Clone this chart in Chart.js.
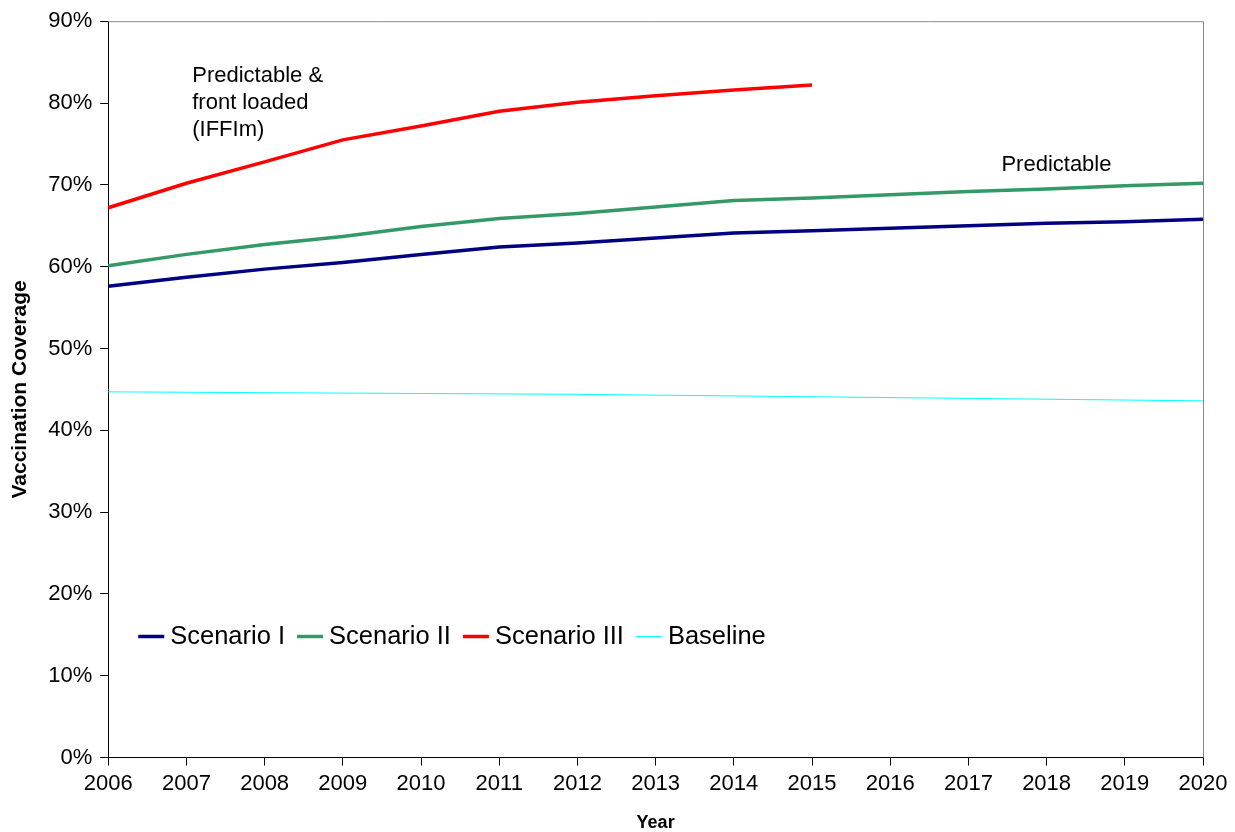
<!DOCTYPE html>
<html>
<head>
<meta charset="utf-8">
<script src="https://cdn.jsdelivr.net/npm/chart.js@4"></script>
<style>
  html, body { margin: 0; padding: 0; background: #fff; }
  #wrap { width: 1235px; height: 832px; }
</style>
</head>
<body>
<div id="wrap"><canvas id="c" width="1235" height="832"></canvas></div>
<script>
const years = ['2006','2007','2008','2009','2010','2011','2012','2013','2014','2015','2016','2017','2018','2019','2020'];
const scenarioI   = [57.6, 58.7, 59.7, 60.5, 61.5, 62.4, 62.9, 63.5, 64.1, 64.4, 64.7, 65.0, 65.3, 65.5, 65.8];
const scenarioII  = [60.1, 61.5, 62.7, 63.7, 64.9, 65.9, 66.5, 67.3, 68.1, 68.4, 68.8, 69.2, 69.5, 69.9, 70.2];
const scenarioIII = [67.2, 70.2, 72.8, 75.5, 77.2, 79.0, 80.1, 80.9, 81.6, 82.2];
const baseline    = [44.7, 44.65, 44.6, 44.55, 44.5, 44.45, 44.4, 44.3, 44.2, 44.1, 44.0, 43.9, 43.8, 43.7, 43.6];
const yTicks = [0, 10, 20, 30, 40, 50, 60, 70, 80, 90];

const FONT = 'Liberation Sans, Arial, sans-serif';

// plot border (top/right), x title, annotations and the legend inside the plot
const extras = {
  id: 'extras',
  afterDraw(chart) {
    const { ctx, chartArea: a, scales: { x, y } } = chart;
    ctx.save();
    ctx.strokeStyle = '#888';
    ctx.lineWidth = 1;
    ctx.beginPath();
    ctx.moveTo(a.left, a.top + 0.5); ctx.lineTo(a.right + 0.5, a.top + 0.5);
    ctx.lineTo(a.right + 0.5, a.bottom);
    ctx.stroke();

    ctx.fillStyle = '#000';
    ctx.textBaseline = 'middle';
    ctx.textAlign = 'center';
    ctx.font = 'bold 18px ' + FONT;
    ctx.fillText('Year', (a.left + a.right) / 2, a.bottom + 65);

    ctx.textAlign = 'left';
    ctx.font = '22px ' + FONT;
    const lx = x.getPixelForValue(0) + 84;
    ['Predictable &', 'front loaded', '(IFFIm)'].forEach((t, i) => {
      ctx.fillText(t, lx, y.getPixelForValue(83.3) + i * 27);
    });
    ctx.fillText('Predictable', x.getPixelForValue(11) + 33, y.getPixelForValue(72.4));

    // legend
    ctx.font = '25.5px ' + FONT;
    let px = a.left + 30;
    const py = y.getPixelForValue(14.8);
    chart.data.datasets.forEach(ds => {
      ctx.strokeStyle = ds.borderColor;
      ctx.lineWidth = ds.borderWidth > 2 ? 3.5 : 1;
      ctx.beginPath();
      ctx.moveTo(px, py); ctx.lineTo(px + 26, py);
      ctx.stroke();
      px += 32;
      ctx.fillText(ds.label, px, py);
      px += ctx.measureText(ds.label).width + 12;
    });
    ctx.restore();
  }
};

new Chart(document.getElementById('c'), {
  type: 'line',
  data: {
    labels: years,
    datasets: [
      { label: 'Scenario I',   data: scenarioI,   borderColor: '#000080', borderWidth: 3.5 },
      { label: 'Scenario II',  data: scenarioII,  borderColor: '#339966', borderWidth: 3.5 },
      { label: 'Scenario III', data: scenarioIII, borderColor: '#ff0000', borderWidth: 3.5 },
      { label: 'Baseline',     data: baseline,    borderColor: '#00ffff', borderWidth: 1 }
    ]
  },
  options: {
    responsive: false,
    animation: false,
    devicePixelRatio: 1,
    elements: { point: { radius: 0 }, line: { tension: 0 } },
    layout: { padding: { top: 15, right: 32, left: 4, bottom: 30 } },
    plugins: { legend: { display: false }, tooltip: { enabled: false } },
    scales: {
      x: {
        offset: false,
        grid: { display: true, drawOnChartArea: false, drawTicks: true, tickLength: 8, color: '#000' },
        border: { color: '#000', width: 1 },
        ticks: { color: '#000', font: { family: FONT, size: 22 }, maxRotation: 0, autoSkip: false, padding: 5 }
      },
      y: {
        min: 0, max: 90,
        afterBuildTicks: s => { s.ticks = yTicks.map(v => ({ value: v })); },
        grid: { display: true, drawOnChartArea: false, drawTicks: true, tickLength: 8, color: '#000' },
        border: { color: '#000', width: 1 },
        ticks: { color: '#000', font: { family: FONT, size: 22 }, padding: 8, callback: v => v + '%' },
        title: { display: true, text: 'Vaccination Coverage', color: '#000', font: { family: FONT, size: 21, weight: 'bold' }, padding: { bottom: 7 } }
      }
    }
  },
  plugins: [extras]
});
</script>
</body>
</html>
